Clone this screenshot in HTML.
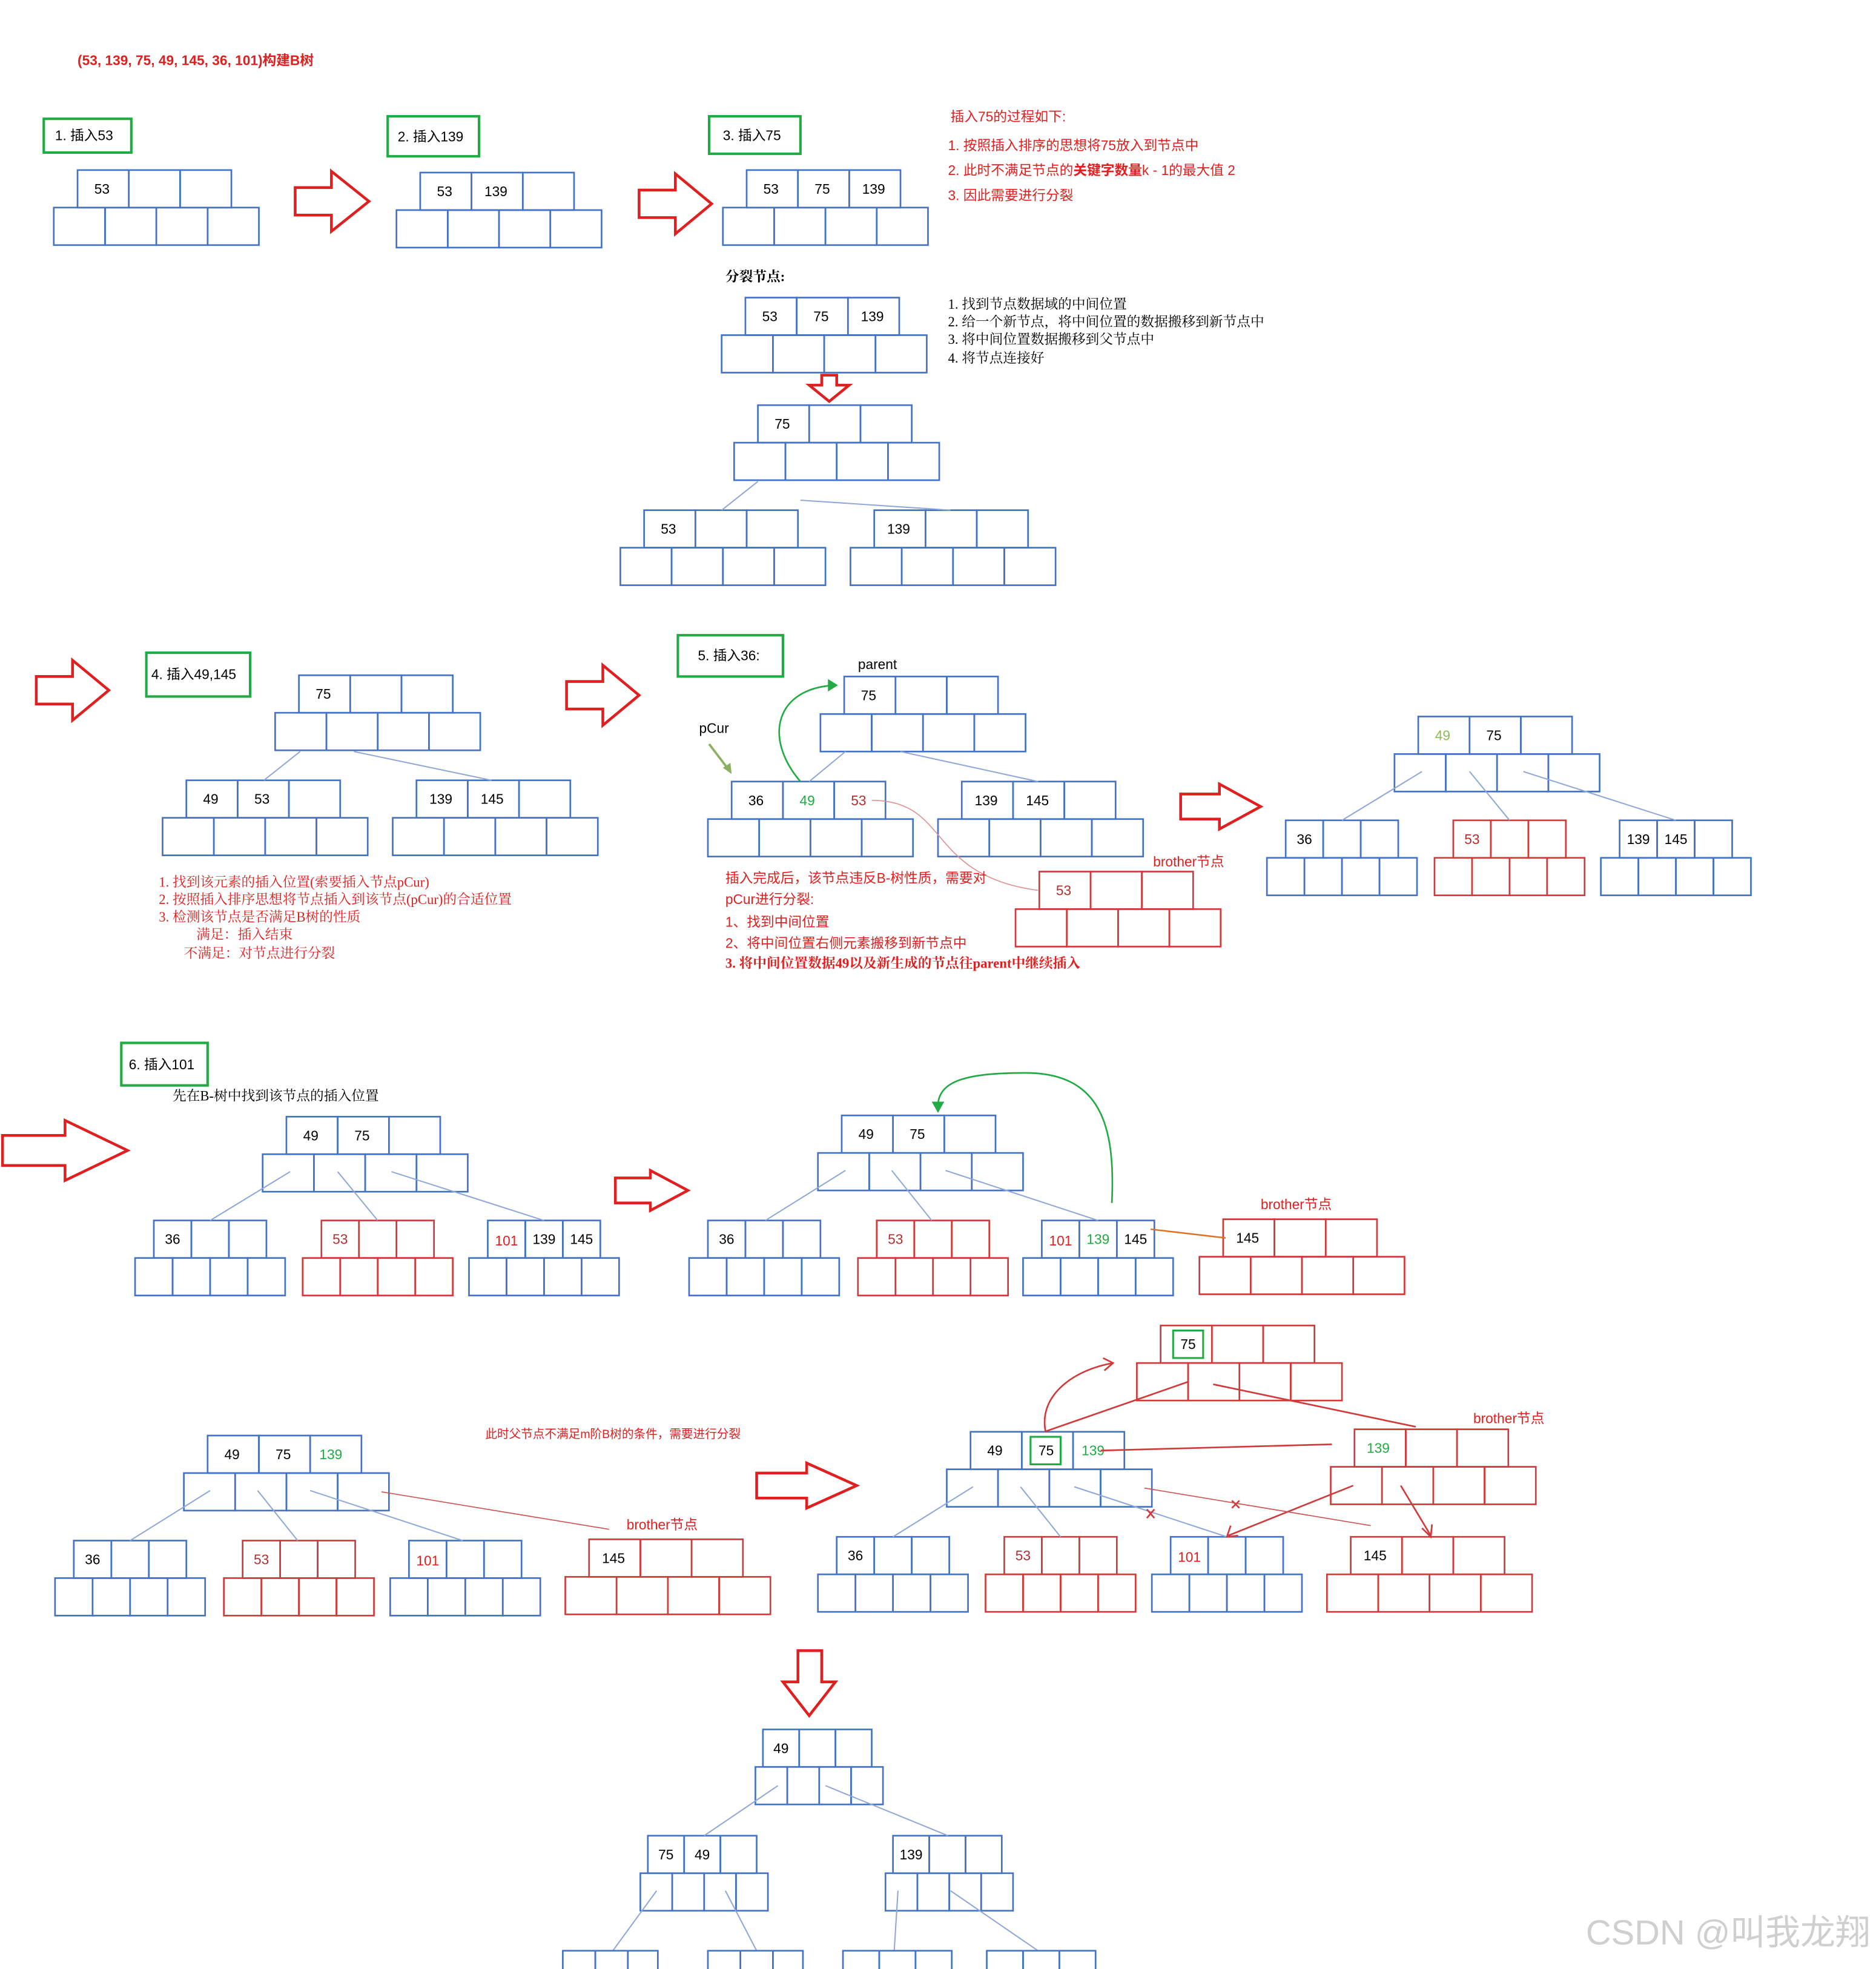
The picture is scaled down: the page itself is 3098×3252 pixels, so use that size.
<!DOCTYPE html>
<html><head><meta charset="utf-8"><style>
html,body{margin:0;padding:0;background:#fff;}
svg{display:block;}
text{font-family:"Liberation Sans","Noto Sans CJK SC",sans-serif;font-size:11px;}
.k{text-anchor:middle;dominant-baseline:central;fill:#000;}
.r,.r text{fill:#e02020;}
.g{fill:#22aa44;}
.lg{fill:#8dbb55;}
.dr{fill:#b03030;}
.s,.s text{font-family:"Liberation Serif","Noto Serif CJK SC",serif;}
</style></head><body>
<svg width="3098" height="3252" viewBox="0 0 1500 1574.6" preserveAspectRatio="none" xmlns="http://www.w3.org/2000/svg">
<defs>
<g id="B"><g fill="none" stroke="#4472c4" stroke-width="1.3">
<rect x="19" y="0" width="41" height="30"/><rect x="60" y="0" width="41" height="30"/><rect x="101" y="0" width="41" height="30"/>
<rect x="0" y="30" width="41" height="30"/><rect x="41" y="30" width="41" height="30"/><rect x="82" y="30" width="41" height="30"/><rect x="123" y="30" width="41" height="30"/></g></g>
<g id="R"><g fill="none" stroke="#d03a3a" stroke-width="1.3">
<rect x="19" y="0" width="41" height="30"/><rect x="60" y="0" width="41" height="30"/><rect x="101" y="0" width="41" height="30"/>
<rect x="0" y="30" width="41" height="30"/><rect x="41" y="30" width="41" height="30"/><rect x="82" y="30" width="41" height="30"/><rect x="123" y="30" width="41" height="30"/></g></g>
<g id="b"><g fill="none" stroke="#4472c4" stroke-width="1.3">
<rect x="15" y="0" width="30" height="30"/><rect x="45" y="0" width="30" height="30"/><rect x="75" y="0" width="30" height="30"/>
<rect x="0" y="30" width="30" height="30"/><rect x="30" y="30" width="30" height="30"/><rect x="60" y="30" width="30" height="30"/><rect x="90" y="30" width="30" height="30"/></g></g>
<g id="r"><g fill="none" stroke="#d03a3a" stroke-width="1.3">
<rect x="15" y="0" width="30" height="30"/><rect x="45" y="0" width="30" height="30"/><rect x="75" y="0" width="30" height="30"/>
<rect x="0" y="30" width="30" height="30"/><rect x="30" y="30" width="30" height="30"/><rect x="60" y="30" width="30" height="30"/><rect x="90" y="30" width="30" height="30"/></g></g>
<g id="t"><g fill="none" stroke="#4472c4" stroke-width="1.3">
<rect x="6" y="0" width="29" height="30"/><rect x="35" y="0" width="29" height="30"/><rect x="64" y="0" width="29" height="30"/>
<rect x="0" y="30" width="25.5" height="30"/><rect x="25.5" y="30" width="25.5" height="30"/><rect x="51" y="30" width="25.5" height="30"/><rect x="76.5" y="30" width="25.5" height="30"/></g></g>
</defs>

<text x="62" y="52" class="r" style="font-weight:bold">(53, 139, 75, 49, 145, 36, 101)构建B树</text>

<g fill="none" stroke="#22aa44" stroke-width="2">
<rect x="35" y="95" width="70" height="27"/><rect x="310" y="93" width="73" height="32"/><rect x="567" y="93" width="73" height="30"/>
<rect x="117" y="522" width="83" height="35"/><rect x="542" y="508" width="84" height="33"/><rect x="97" y="834" width="69" height="34"/>
</g>
<text x="44" y="112">1. 插入53</text><text x="318" y="113">2. 插入139</text><text x="578" y="112">3. 插入75</text>
<text x="121" y="543">4. 插入49,145</text><text x="558" y="528">5. 插入36:</text><text x="103" y="855">6. 插入101</text>

<g fill="#fff" stroke="#e02020" stroke-width="2.2">
<polygon points="236,150 265,150 265,137 295,161 265,185 265,172 236,172"/>
<polygon points="511,152 540,152 540,139 569,163 540,187 540,174 511,174"/>
<polygon points="29,541 58,541 58,528 87,552 58,576 58,563 29,563"/>
<polygon points="453,545 482,545 482,532 511,556 482,580 482,567 453,567"/>
<polygon points="944,635 975,635 975,627 1008,645 975,663 975,655 944,655"/>
<polygon points="2,908 52,908 52,896 102,920 52,944 52,932 2,932"/>
<polygon points="492,942 520,942 520,936 550,952 520,968 520,962 492,962"/>
<polygon points="605,1178 645,1178 645,1170 685,1188 645,1206 645,1198 605,1198"/>
<polygon points="657,300 669,300 669,308 679,308 663,321 647,308 657,308"/>
<polygon points="638,1320 657,1320 657,1345 668,1345 647,1372 626,1345 638,1345"/>
</g>

<use href="#B" x="43" y="136"/><text class="k" x="81.5" y="151">53</text>
<use href="#B" x="317" y="138"/><text class="k" x="355.5" y="153">53</text><text class="k" x="396.5" y="153">139</text>
<use href="#B" x="578" y="136"/><text class="k" x="616.5" y="151">53</text><text class="k" x="657.5" y="151">75</text><text class="k" x="698.5" y="151">139</text>

<text x="760" y="97" class="r">插入75的过程如下:</text>
<text x="758" y="120" class="r">1. 按照插入排序的思想将75放入到节点中</text>
<text x="758" y="140" class="r">2. 此时不满足节点的<tspan style="font-weight:bold">关键字数量</tspan>k - 1的最大值 2</text>
<text x="758" y="160" class="r">3. 因此需要进行分裂</text>

<text x="580" y="225" class="s" style="font-weight:bold">分裂节点:</text>
<use href="#B" x="577" y="238"/><text class="k" x="615.5" y="253">53</text><text class="k" x="656.5" y="253">75</text><text class="k" x="697.5" y="253">139</text>
<g class="s"><text x="758" y="247">1.  找到节点数据域的中间位置</text><text x="758" y="261">2.  给一个新节点，将中间位置的数据搬移到新节点中</text><text x="758" y="275">3.  将中间位置数据搬移到父节点中</text><text x="758" y="290">4.  将节点连接好</text></g>

<use href="#B" x="587" y="324"/><text class="k" x="625.5" y="339">75</text>
<use href="#B" x="496" y="408"/><text class="k" x="534.5" y="423">53</text>
<use href="#B" x="680" y="408"/><text class="k" x="718.5" y="423">139</text>
<g stroke="#8fa8d8" stroke-width="1"><line x1="606" y1="385" x2="577" y2="408"/><line x1="640" y1="400" x2="760" y2="408"/></g>

<use href="#B" x="220" y="540"/><text class="k" x="258.5" y="555">75</text>
<use href="#B" x="130" y="624"/><text class="k" x="168.5" y="639">49</text><text class="k" x="209.5" y="639">53</text>
<use href="#B" x="314" y="624"/><text class="k" x="352.5" y="639">139</text><text class="k" x="393.5" y="639">145</text>
<g stroke="#8fa8d8" stroke-width="1"><line x1="240" y1="601" x2="211" y2="624"/><line x1="283" y1="601" x2="393" y2="624"/></g>
<g class="s r"><text x="127" y="709">1.  找到该元素的插入位置(索要插入节点pCur)</text><text x="127" y="723">2.  按照插入排序思想将节点插入到该节点(pCur)的合适位置</text><text x="127" y="737">3.  检测该节点是否满足B树的性质</text><text x="157" y="751">满足：插入结束</text><text x="147" y="766">不满足：对节点进行分裂</text></g>

<text x="686" y="535">parent</text>
<use href="#B" x="656" y="541"/><text class="k" x="694.5" y="556">75</text>
<use href="#B" x="566" y="625"/><text class="k" x="604.5" y="640">36</text><text class="k g" x="645.5" y="640">49</text><text class="k dr" x="686.5" y="640">53</text>
<use href="#B" x="750" y="625"/><text class="k" x="788.5" y="640">139</text><text class="k" x="829.5" y="640">145</text>
<use href="#R" x="812" y="697"/><text class="k dr" x="850.5" y="712">53</text>
<text x="922" y="693" class="r">brother节点</text>
<text x="559" y="586">pCur</text>
<line x1="567" y1="595" x2="583" y2="616" stroke="#8db060" stroke-width="1.8"/><polygon points="585,619 578,614 584,610" fill="#8db060"/>
<path d="M640,625 C610,590 620,550 668,548" fill="none" stroke="#22aa44" stroke-width="1.3"/><polygon points="670,548 662,543 662,553" fill="#22aa44"/>
<g stroke="#8fa8d8" stroke-width="1"><line x1="676" y1="601" x2="647" y2="625"/><line x1="720" y1="601" x2="830" y2="625"/></g>
<path d="M697,640 C760,640 740,700 830,712" fill="none" stroke="#e09090" stroke-width="0.8"/>
<g class="r"><text x="580" y="706">插入完成后，该节点违反B-树性质，需要对</text><text x="580" y="723">pCur进行分裂:</text><text x="580" y="741">1、找到中间位置</text><text x="580" y="758">2、将中间位置右侧元素搬移到新节点中</text><text x="580" y="774" class="s" style="font-weight:bold">3.  将中间位置数据49以及新生成的节点往parent中继续插入</text></g>

<use href="#B" x="1115" y="573"/><text class="k lg" x="1153.5" y="588">49</text><text class="k" x="1194.5" y="588">75</text>
<use href="#b" x="1013" y="656"/><text class="k" x="1043" y="671">36</text>
<use href="#r" x="1147" y="656"/><text class="k dr" x="1177" y="671">53</text>
<use href="#b" x="1280" y="656"/><text class="k" x="1310" y="671">139</text><text class="k" x="1340" y="671">145</text>
<g stroke="#8fa8d8" stroke-width="1"><line x1="1137" y1="617" x2="1073" y2="656"/><line x1="1175" y1="617" x2="1207" y2="656"/><line x1="1218" y1="617" x2="1340" y2="656"/></g>

<text x="138" y="880" class="s">先在B-树中找到该节点的插入位置</text>
<use href="#B" x="210" y="893"/><text class="k" x="248.5" y="908">49</text><text class="k" x="289.5" y="908">75</text>
<use href="#b" x="108" y="976"/><text class="k" x="138" y="991">36</text>
<use href="#r" x="242" y="976"/><text class="k dr" x="272" y="991">53</text>
<use href="#b" x="375" y="976"/><text class="k r" x="405" y="992">101</text><text class="k" x="435" y="991">139</text><text class="k" x="465" y="991">145</text>
<g stroke="#8fa8d8" stroke-width="1"><line x1="232" y1="937" x2="168" y2="976"/><line x1="270" y1="937" x2="302" y2="976"/><line x1="313" y1="937" x2="435" y2="976"/></g>

<use href="#B" x="654" y="892"/><text class="k" x="692.5" y="907">49</text><text class="k" x="733.5" y="907">75</text>
<use href="#b" x="551" y="976"/><text class="k" x="581" y="991">36</text>
<use href="#r" x="686" y="976"/><text class="k dr" x="716" y="991">53</text>
<use href="#b" x="818" y="976"/><text class="k r" x="848" y="992">101</text><text class="k g" x="878" y="991">139</text><text class="k" x="908" y="991">145</text>
<use href="#R" x="959" y="975"/><text class="k" x="997.5" y="990">145</text>
<text x="1008" y="967" class="r">brother节点</text>
<g stroke="#8fa8d8" stroke-width="1"><line x1="676" y1="936" x2="612" y2="976"/><line x1="713" y1="936" x2="745" y2="976"/><line x1="756" y1="936" x2="878" y2="976"/></g>
<path d="M889,962 C892,900 880,858 820,858 C770,858 748,865 750,888" fill="none" stroke="#22aa44" stroke-width="1.3"/><polygon points="750,890 745,881 755,881" fill="#22aa44"/>
<line x1="920" y1="983" x2="980" y2="990" stroke="#e07020" stroke-width="1.2"/>

<use href="#B" x="147" y="1148"/><text class="k" x="185.5" y="1163">49</text><text class="k" x="226.5" y="1163">75</text><text class="k g" x="264.5" y="1163">139</text>
<use href="#b" x="44" y="1232"/><text class="k" x="74" y="1247">36</text>
<use href="#r" x="179" y="1232"/><text class="k dr" x="209" y="1247">53</text>
<use href="#b" x="312" y="1232"/><text class="k r" x="342" y="1248">101</text>
<use href="#R" x="452" y="1231"/><text class="k" x="490.5" y="1246">145</text>
<text x="501" y="1223" class="r">brother节点</text>
<text x="388" y="1150" class="r" style="font-size:9.5px">此时父节点不满足m阶B树的条件，需要进行分裂</text>
<g stroke="#8fa8d8" stroke-width="1"><line x1="168" y1="1192" x2="104" y2="1232"/><line x1="206" y1="1192" x2="238" y2="1232"/><line x1="248" y1="1192" x2="370" y2="1232"/></g>
<line x1="305" y1="1193" x2="487" y2="1223" stroke="#d05050" stroke-width="0.8"/>

<use href="#R" x="909" y="1060"/><rect x="938" y="1064" width="24" height="22" fill="none" stroke="#22aa44" stroke-width="1.5"/><text class="k" x="950" y="1075">75</text>
<use href="#B" x="757" y="1145"/><text class="k" x="795.5" y="1160">49</text><rect x="824" y="1149" width="24" height="22" fill="none" stroke="#22aa44" stroke-width="1.5"/><text class="k" x="836.5" y="1160">75</text><text class="k g" x="874" y="1160">139</text>
<use href="#R" x="1064" y="1143"/><text class="k g" x="1102" y="1158">139</text>
<text x="1178" y="1138" class="r">brother节点</text>
<use href="#b" x="654" y="1229"/><text class="k" x="684" y="1244">36</text>
<use href="#r" x="788" y="1229"/><text class="k dr" x="818" y="1244">53</text>
<use href="#b" x="921" y="1229"/><text class="k r" x="951" y="1245">101</text>
<use href="#R" x="1061" y="1229"/><text class="k" x="1099.5" y="1244">145</text>
<g stroke="#8fa8d8" stroke-width="1"><line x1="778" y1="1189" x2="714" y2="1229"/><line x1="816" y1="1189" x2="848" y2="1229"/><line x1="859" y1="1189" x2="981" y2="1229"/></g>
<g stroke="#d03a3a" stroke-width="1.3" fill="none">
<path d="M836,1145 C830,1115 860,1095 890,1090"/><polyline points="882,1086 890,1090 883,1096"/>
<line x1="835" y1="1145" x2="950" y2="1105"/>
<line x1="970" y1="1107" x2="1132" y2="1141"/>
<line x1="880" y1="1160" x2="1065" y2="1155"/>
<line x1="1082" y1="1188" x2="982" y2="1228"/><polyline points="984,1220 981,1229 990,1228"/>
<line x1="1120" y1="1188" x2="1144" y2="1228"/><polyline points="1137,1222 1144,1229 1145,1219"/>
<path d="M985,1200 l6,6 m0,-6 l-6,6"/><path d="M917,1207 l6,7 m0,-7 l-6,7"/>
</g>
<line x1="915" y1="1190" x2="1096" y2="1220" stroke="#d05050" stroke-width="0.8"/>

<use href="#t" x="604" y="1383"/><text class="k" x="624.5" y="1398">49</text>
<use href="#t" x="512" y="1468"/><text class="k" x="532.5" y="1483">75</text><text class="k" x="561.5" y="1483">49</text>
<use href="#t" x="708" y="1468"/><text class="k" x="728.5" y="1483">139</text>
<g stroke="#8fa8d8" stroke-width="1"><line x1="622" y1="1428" x2="563" y2="1468"/><line x1="660" y1="1428" x2="758" y2="1468"/>
<line x1="525" y1="1512" x2="490" y2="1560"/><line x1="580" y1="1512" x2="605" y2="1560"/><line x1="718" y1="1512" x2="715" y2="1560"/><line x1="760" y1="1512" x2="830" y2="1560"/></g>
<g fill="none" stroke="#4472c4" stroke-width="1.3">
<rect x="450" y="1560" width="26" height="20"/><rect x="476" y="1560" width="26" height="20"/><rect x="502" y="1560" width="24" height="20"/>
<rect x="566" y="1560" width="26" height="20"/><rect x="592" y="1560" width="26" height="20"/><rect x="618" y="1560" width="24" height="20"/>
<rect x="674" y="1560" width="29" height="20"/><rect x="703" y="1560" width="29" height="20"/><rect x="732" y="1560" width="29" height="20"/>
<rect x="789" y="1560" width="29" height="20"/><rect x="818" y="1560" width="29" height="20"/><rect x="847" y="1560" width="29" height="20"/>
</g>
<text x="1268" y="1555" style="font-size:28px;fill:#cfcfcf">CSDN @叫我龙翔</text>
</svg>
</body></html>
